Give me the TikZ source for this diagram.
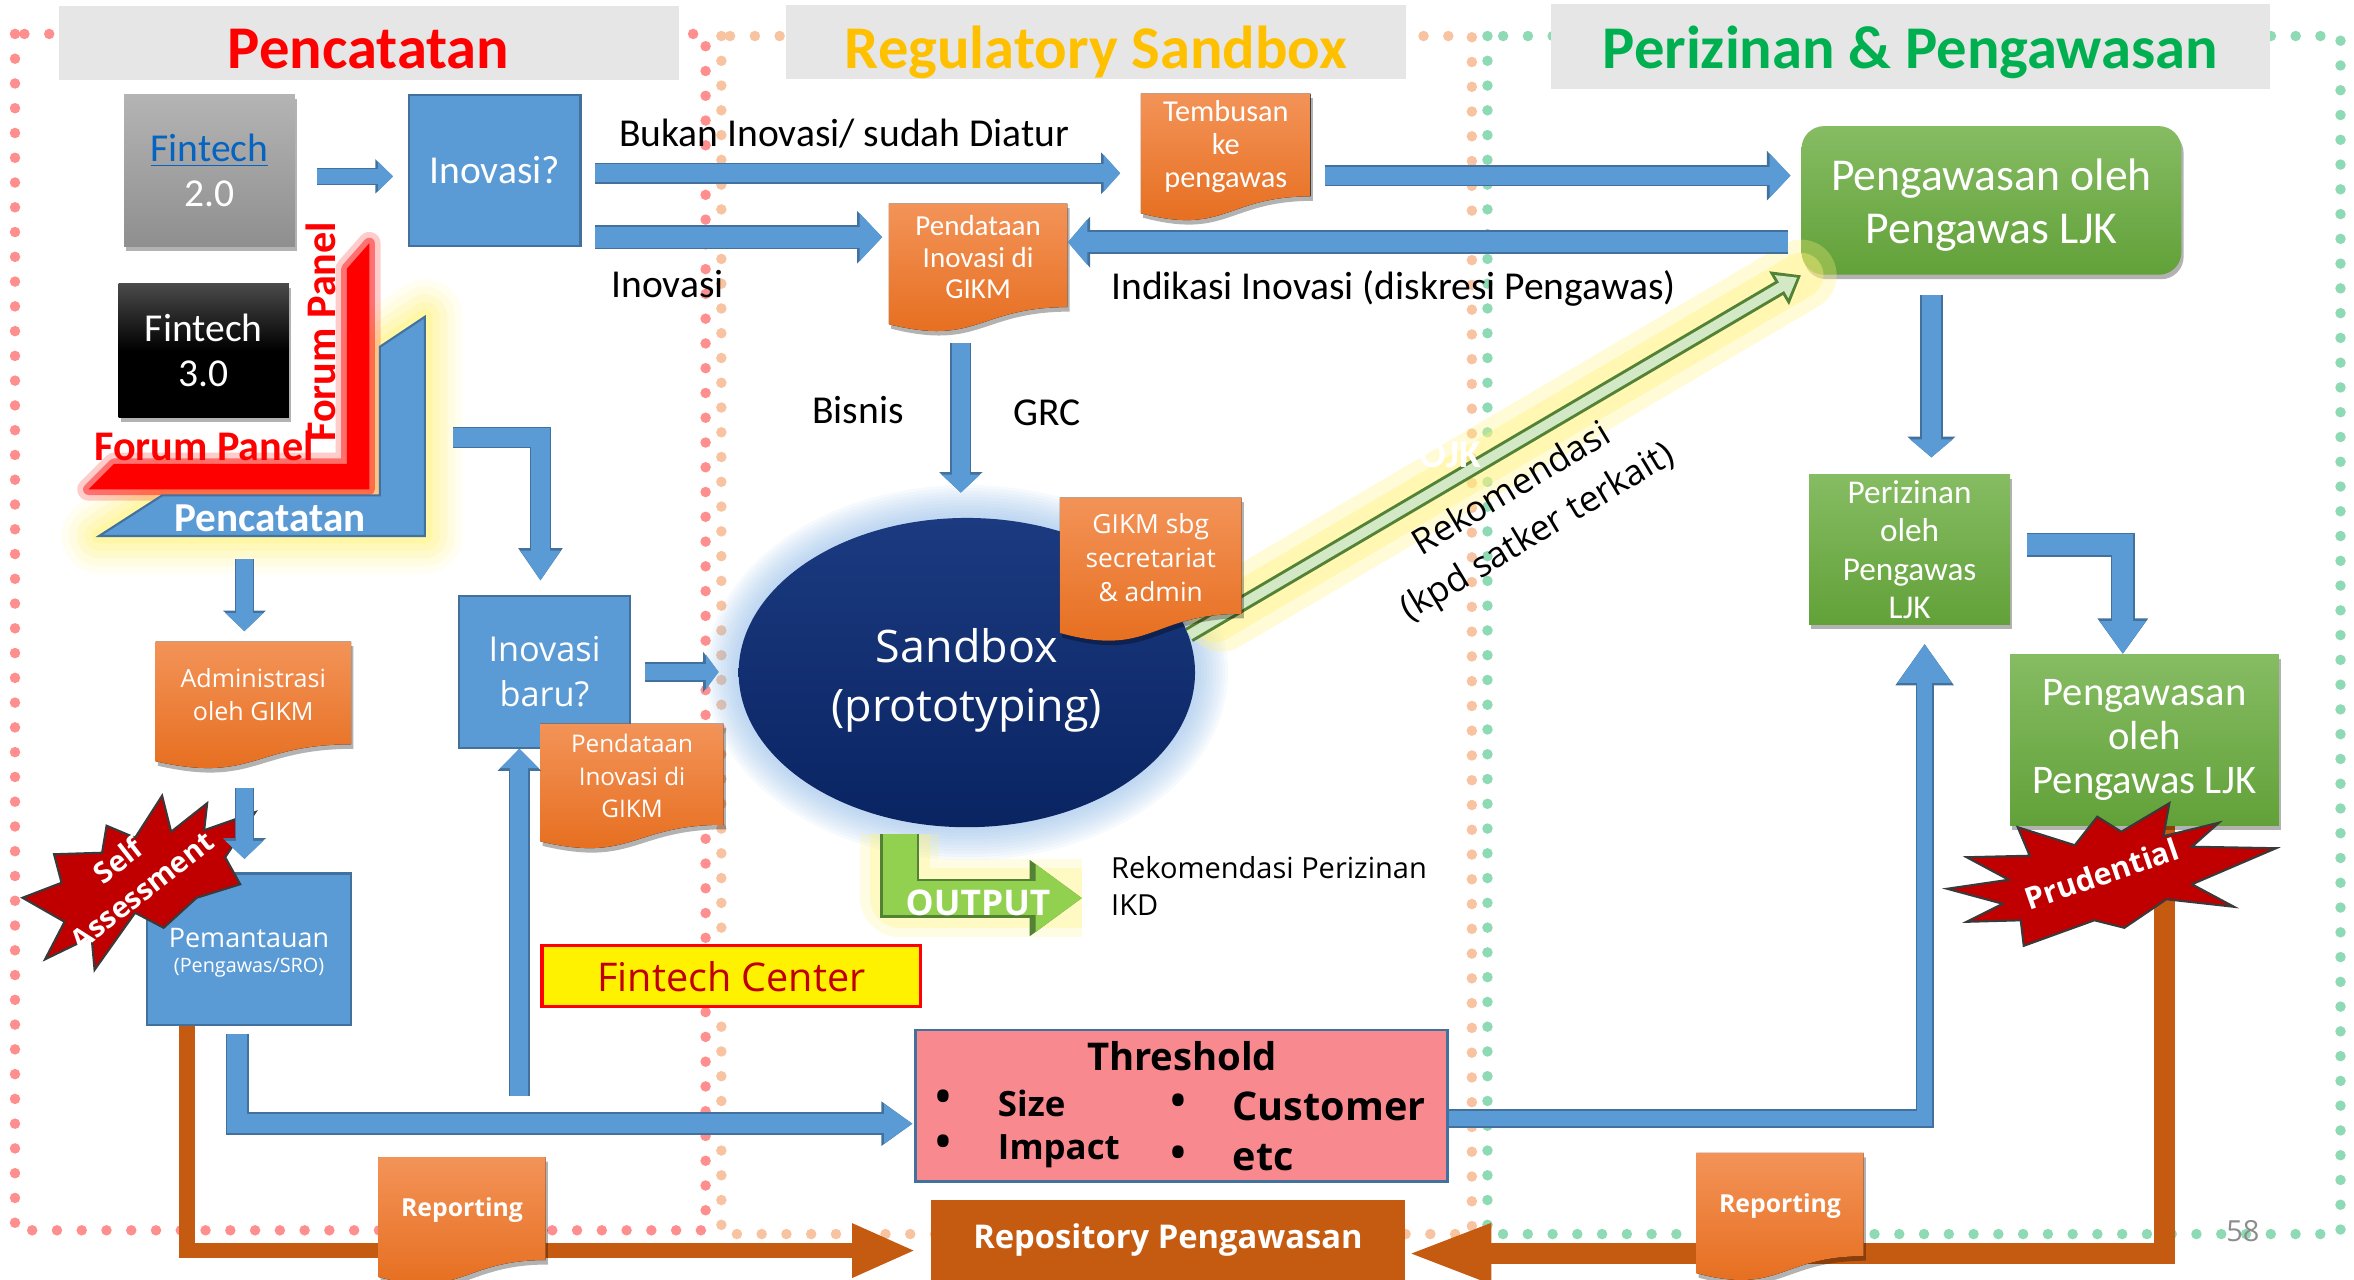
\documentclass[tikz,border=0pt]{standalone}
\usepackage{fontspec}
\setmainfont{Carlito}
\newfontfamily\segoe{Open Sans}
\usetikzlibrary{arrows.meta, shapes.geometric, shadows}

\definecolor{bfill}{HTML}{5B9BD5}
\definecolor{bline}{HTML}{41719C}
\definecolor{orgtop}{HTML}{F39358}
\definecolor{orgbot}{HTML}{E56B1A}
\definecolor{repcol}{HTML}{C55A11}
\definecolor{grntop}{HTML}{86BC63}
\definecolor{grnbot}{HTML}{62A139}
\definecolor{navy}{HTML}{0A2462}
\definecolor{navytop}{HTML}{1B3A80}
\definecolor{glowblue}{HTML}{8DB8E6}
\definecolor{glowyel}{HTML}{FFF27A}
\definecolor{pinkfill}{HTML}{F8898F}
\definecolor{ttlgray}{HTML}{E6E6E6}
\definecolor{ttlgold}{HTML}{FFC000}
\definecolor{ttlgreen}{HTML}{00B050}
\definecolor{dotred}{HTML}{FF8F8F}
\definecolor{dotpeach}{HTML}{F7C3A0}
\definecolor{dotgreen}{HTML}{8EDAB4}
\definecolor{burst}{HTML}{C00000}
\definecolor{burstline}{HTML}{3A3A3A}
\definecolor{outgreen}{HTML}{92D050}
\definecolor{dkgreen}{HTML}{548235}
\definecolor{diaglight}{HTML}{D3E8C5}
\definecolor{linkblue}{HTML}{0563C1}
\definecolor{fgtop}{HTML}{B4B4B4}
\definecolor{fgbot}{HTML}{8F8F8F}
\definecolor{fktop}{HTML}{4A4A4A}
\definecolor{ftred}{HTML}{C00000}
\definecolor{pggray}{HTML}{8C8C8C}

\newcommand\fsz[2]{\fontsize{#1}{#2}\selectfont}

% orange document shape: name, x, y, width, height, font, text
\newcommand\docbox[7]{%
  \fill[docfill] (#2,#3) -- (#2+#4,#3) -- (#2+#4,#3+0.802*#5)
    .. controls (#2+0.5*#4,#3+0.802*#5) and (#2+0.5*#4,#3+1.107*#5) .. (#2,#3+0.934*#5) -- cycle;
  \node[boxwh={#4}{#5}] (#1) at (#2+0.5*#4,#3+0.5*#5) {};
  \node[doctxt, font=#6] (#1t) at (#2+0.5*#4,#3+0.415*#5) {#7};
}

\tikzset{
  boxwh/.style 2 args={minimum width=#1*0.02cm, minimum height=#2*0.02cm, inner sep=0pt},
  shd/.style={drop shadow={shadow xshift=0.03cm, shadow yshift=-0.06cm, opacity=0.3, fill=black}},
  bluebox/.style={fill=bfill, draw=bline, line width=0.8pt, text=white, align=center},
  greenbox/.style={top color=grntop, bottom color=grnbot, text=white, align=center, shd},
  docfill/.style={top color=orgtop, bottom color=orgbot, shd},
  doctxt/.style={text=white, align=center, inner sep=0pt},
  ttlbox/.style={fill=ttlgray},
  ttl/.style={font=\bfseries\fsz{23}{26}, inner sep=0pt},
  lbl/.style={font=\fsz{15}{17}, inner sep=0pt},
  blk/.style n args={3}{draw=bfill, line width=#1, -{Triangle[length=#3, width=#2]}, % block arrows
    preaction={draw=bline, line width=#1+1.2pt, -{Triangle[length=#3+1pt, width=#2+1.8pt]}}},
  orng/.style n args={3}{draw=repcol, line width=#1, -{Triangle[length=#3, width=#2]}},
  dotline/.style={line width=0.14cm, line cap=round, dash pattern=on 0pt off 0.33cm},
  burststar/.style={fill=burst, draw=burstline, line width=0.8pt},
  bursttxt/.style={text=white, font=\segoe\bfseries\fsz{11}{14.6}, align=center, inner sep=0pt},
  outarr/.style={draw=outgreen, line width=0.46cm, -{Triangle[length=0.62cm, width=0.86cm]},
    preaction={draw=glowyel, line width=1.05cm, opacity=0.2, line join=round, line cap=butt, -},
    preaction={draw=glowyel, line width=0.8cm, opacity=0.3, line join=round, line cap=butt, -},
    preaction={draw=dkgreen, line width=0.52cm, -{Triangle[length=0.7cm, width=0.97cm]}}},
  diagarr/.style={draw=diaglight, line width=0.13cm, shorten >=0.06cm, -{Triangle[length=0.24cm, width=0.34cm]},
    preaction={draw=glowyel, line width=0.95cm, opacity=0.3, shorten >=0pt, shorten <=0.5cm, line cap=round, -},
    preaction={draw=glowyel, line width=0.6cm, opacity=0.4, shorten >=0pt, shorten <=0.4cm, line cap=round, -},
    preaction={draw=dkgreen, line width=0.21cm, shorten >=0pt, -{Triangle[length=0.34cm, width=0.5cm]}}},
}

\begin{document}
\begin{tikzpicture}[x=0.02cm, y=-0.02cm]
\useasboundingbox (0,0) rectangle (1568,852);
\clip (0,0) rectangle (1568,852);

% column frames
\draw[dotline, dotred] (10,22.6) rectangle (470,819.5);
\draw[dotline, dotpeach] (480.5,24) rectangle (980.4,822);
\draw[dotline, dotgreen] (990.8,24) rectangle (1559,822);

\node[ttlbox, boxwh={413}{49.5}] (head1) at (245.5,28.8) {};
\node[ttl, text=red] (head1t) at (245.5,33) {Pencatatan};
\node[ttlbox, boxwh={413}{49.2}] (head2) at (730,28.2) {};
\node[ttl, text=ttlgold] (head2t) at (730,35) {Regulatory Sandbox};
\node[ttlbox, boxwh={479}{56.5}] (head3) at (1272.5,30.7) {};
\node[ttl, text=ttlgreen] (head3t) at (1272.5,35) {Perizinan \& Pengawasan};

% reporting lines
\node[fill=repcol, boxwh={316}{54}, text=white, font=\segoe\bfseries\fsz{12.4}{14}] (repo) at (778,826) {Repository Pengawasan};
\node[boxwh={135.9}{101}] (pemref) at (165.9,632.3) {};
\node[boxwh={179}{114}] (peng2ref) at (1428.5,493) {};
\draw[orng={0.21cm}{0.66cm}{0.85cm}, shorten >=0.19cm] (pemref.south -| 124.5,0) |- (repo.west |- 0,833);
\draw[orng={0.28cm}{0.72cm}{1.14cm}] (peng2ref.south -| 1442,0) |- (repo.east |- 0,835);
\docbox{rep1}{252}{770.8}{111.5}{85.4}{\segoe\bfseries\fsz{9.4}{11}}{Reporting}
\docbox{rep2}{1129.9}{768}{111.5}{85.7}{\segoe\bfseries\fsz{9.4}{11}}{Reporting}

% Pencatatan column
\node[boxwh={113.8}{101}, top color=fgtop, bottom color=fgbot, shd, align=center, text=white, font=\fsz{15}{16.8}] (fin2) at (139.5,113.5) {\textcolor{linkblue}{\underline{Fintech}}\\2.0};
\node[boxwh={113.3}{89}, top color=fktop, bottom color=black, middle color=black, shd, align=center, text=white, font=\fsz{15}{16.8}] (fin3) at (135.7,233.5) {Fintech\\3.0};

\foreach \w/\o in {1.0/0.1, 0.8/0.14, 0.6/0.18, 0.4/0.24, 0.2/0.3}
  \draw[glowyel, line width=\w cm, opacity=\o, line join=round] (66,357) -- (108,330) -- (253,330) -- (253,231) -- (283,211) -- (283,357) -- cycle;
\foreach \w/\o in {0.3/0.2, 0.15/0.45}
  \draw[red, line width=\w cm, opacity=\o, line join=round] (59,326) -- (76,309) -- (231,309) -- (231,179) -- (246,162) -- (246,326) -- cycle;
\fill[red] (59,326) -- (76,309) -- (231,309) -- (231,179) -- (246,162) -- (246,326) -- cycle;
\draw[fill=bfill, draw=bline, line width=0.8pt] (66,357) -- (108,330) -- (253,330) -- (253,231) -- (283,211) -- (283,357) -- cycle;
\node[text=white, font=\bfseries\fsz{15.6}{18}, inner sep=0pt] (pcat) at (180,345) {Pencatatan};
\node[text=red, font=\bfseries\fsz{16}{18}, inner sep=0pt] (forumh) at (136,297) {Forum Panel};
\node[text=red, font=\bfseries\fsz{16}{18}, inner sep=0pt, rotate=90] (forumv) at (214,221) {Forum Panel};

\node[bluebox, boxwh={114.2}{101}, font=\fsz{15}{17}] (inov) at (329.6,113.5) {Inovasi?};
\docbox{admin}{103.6}{427.3}{130.2}{85.4}{\segoe\fsz{9.5}{12.3}}{Administrasi\\oleh GIKM}
\node[bluebox, boxwh={135.9}{101}] (pem) at (165.9,632.3) {};
\node[text=white, font=\segoe\fsz{10.2}{12}, inner sep=0pt] (pemt) at (165.9,625) {Pemantauan};
\node[text=white, font=\segoe\fsz{7.5}{9}, inner sep=0pt] (pemsub) at (165.9,644.7) {(Pengawas/SRO)};
\fill[burststar] (108,530) -- (114,554) -- (138,535) -- (136,553) -- (170,541) -- (150,571) -- (160,589) -- (131,598) -- (109,618) -- (90,608) -- (63,646) -- (61,624) -- (30,639) -- (43,614) -- (15,598) -- (41,588) -- (36,569) -- (68,568) -- (71,550) -- (90,558) -- cycle;
\node[bursttxt, rotate=38] (selfas) at (86.5,583) {Self\\Assessment};

\node[bluebox, boxwh={113.8}{101}, font=\segoe\fsz{13}{17}] (inovbaru) at (362.7,447.5) {Inovasi\\baru?};
\docbox{pend2}{360}{482}{122}{84}{\segoe\fsz{9.2}{12.2}}{Pendataan\\Inovasi di\\GIKM}
\node[fill=yellow, draw=red, line width=1.2pt, boxwh={252.4}{40.5}, text=ftred, font=\segoe\fsz{15}{17}] (fcenter) at (487.2,650.3) {Fintech Center};

% Regulatory Sandbox column
\docbox{pend1}{592}{135.6}{119}{86}{\fsz{11}{12}}{Pendataan\\Inovasi di\\GIKM}
\docbox{temb}{760}{62.3}{113}{85.4}{\fsz{11.5}{12.6}}{Tembusan\\ke\\pengawas}
\foreach \r in {2,4,...,22}
  \fill[glowblue, opacity=0.07] (644,448) ellipse [x radius=152+\r, y radius=103+\r];
\node[ellipse, boxwh={304}{206}, top color=navytop, bottom color=navy] (sand) at (644,448) {};
\node[text=white, font=\segoe\fsz{17}{22.5}, align=center, inner sep=0pt] (sandt) at (644,453) {Sandbox\\(prototyping)};

\node[fill=pinkfill, draw=bline, line width=1pt, boxwh={354.3}{101}] (thr) at (786.9,736.5) {};
\node[font=\segoe\bfseries\fsz{14.5}{16}, inner sep=0pt] (thrt) at (787.4,703.5) {Threshold};
\foreach \x/\y [count=\i] in {628.7/734.6, 628.7/764.5, 785/737.4, 785/771.5}
  \node[font=\segoe\fsz{20}{22}, inner sep=0pt] (bul\i) at (\x,\y) {\textbullet};
\node[font=\segoe\bfseries\fsz{13.2}{15}, inner sep=0pt, anchor=west] (tsize) at (664.4,735) {Size};
\node[font=\segoe\bfseries\fsz{13.2}{15}, inner sep=0pt, anchor=west] (timpact) at (664.4,767) {Impact};
\node[font=\segoe\bfseries\fsz{15}{17}, inner sep=0pt, anchor=west] (tcust) at (820.7,737) {Customer};
\node[font=\segoe\bfseries\fsz{15}{17}, inner sep=0pt, anchor=west] (tetc) at (820.7,771) {etc};

% Perizinan & Pengawasan column
\node[greenbox, rounded corners=0.3cm, boxwh={253}{99}] (peng1) at (1326.5,133.5) {};
\node[text=white, font=\fsz{17.3}{20}, align=center, inner sep=0pt] (peng1t) at (1326.5,136.5) {Pengawasan oleh\\Pengawas LJK};
\node[greenbox, boxwh={134}{100}, font=\fsz{12.6}{14.6}] (periz) at (1272,366) {Perizinan\\oleh\\Pengawas\\LJK};
\node[greenbox, boxwh={179}{114}, font=\fsz{15.4}{16.8}] (peng2) at (1428.5,493) {Pengawasan\\oleh\\Pengawas LJK};
\fill[burststar] (1445,535) -- (1441,557) -- (1478,548) -- (1460,564) -- (1516,565) -- (1460,589) -- (1488,604) -- (1443,599) -- (1415,618) -- (1395,613) -- (1348,630) -- (1346,613) -- (1310,614) -- (1334,602) -- (1297,592) -- (1338,586) -- (1310,571) -- (1352,570) -- (1344,551) -- (1382,563) -- (1397,544) -- (1413,554) -- cycle;
\node[bursttxt, font=\segoe\bfseries\fsz{11.5}{13}, rotate=19] (prud) at (1400,582) {Prudential};

% recommendation to the supervisor
\coordinate (dstart) at (792,423);
\draw[diagarr] (dstart) -- (peng1.south west);
\node[text=white, font=\bfseries\fsz{15}{17}, inner sep=0pt] (ojk) at (966,303) {OJK};
\node[font=\segoe\fsz{13.5}{19}, align=center, inner sep=0pt, rotate=31] (rekdiag) at (1016,341) {Rekomendasi\\(kpd satker terkait)};
\docbox{gikm}{706}{331.4}{121}{96.6}{\segoe\fsz{10}{13}}{GIKM sbg\\secretariat\\\& admin}

\node[font=\segoe\fsz{11}{14}, align=left, inner sep=0pt, anchor=west] (rekout) at (739.8,590) {Rekomendasi Perizinan\\IKD};
\draw[outarr, shorten <=0.08cm, shorten >=0.38cm] (sand.south -| 599.4,0) |- (rekout.west |- 0,598.2);
\node[text=white, font=\segoe\bfseries\fsz{13.4}{15}, inner sep=0pt] (outt) at (651.5,601.5) {OUTPUT};

% flow arrows
\draw[blk={0.19cm}{0.38cm}{0.2cm}, shorten <=0.29cm, shorten >=0.2cm] (fin2.east |- 0,117.5) -- (inov.west |- 0,117.5);
\draw[blk={0.24cm}{0.48cm}{0.22cm}, shorten <=0.18cm, shorten >=0.27cm] (inov.east |- 0,115.4) -- node[lbl, above=0.22cm, pos=0.47] (lblbukan) {Bukan Inovasi/ sudah Diatur} (temb.west |- 0,115.4);
\draw[blk={0.28cm}{0.62cm}{0.3cm}, shorten <=0.18cm, shorten >=0.08cm] (inov.east |- 0,158) -- node[lbl, below=0.3cm, pos=0.28] (lblinov) {Inovasi} (pend1.west |- 0,158);
\draw[blk={0.24cm}{0.58cm}{0.28cm}, shorten <=0.18cm, shorten >=0.14cm] (temb.east |- 0,117) -- (peng1.west |- 0,117);
\draw[blk={0.27cm}{0.6cm}{0.26cm}, shorten <=0.17cm] (peng1.west |- 0,161.3) -- node[lbl, below=0.24cm, pos=0.556] (lblind) {Indikasi Inovasi (diskresi Pengawas)} (pend1.east |- 0,161.3);
\draw[blk={0.24cm}{0.5cm}{0.24cm}, shorten <=0.13cm, shorten >=0.33cm] (pend1.south -| 640,0) -- node[lbl, left=0.64cm, pos=0.416] (lblbis) {Bisnis} node[lbl, right=0.58cm, pos=0.43] (lblgrc) {GRC} (sand.north -| 640,0);
\draw[blk={0.26cm}{0.56cm}{0.24cm}, shorten <=0.26cm, shorten >=0.22cm] (peng1.south -| 1286.5,0) -- (periz.north -| 1286.5,0);
\draw[blk={0.28cm}{0.58cm}{0.44cm}, shorten <=0.22cm] (periz.east |- 0,363) -| (peng2.north -| 1414,0);

\coordinate (pcatfoot) at (162.8,357);
\draw[blk={0.22cm}{0.49cm}{0.24cm}, shorten <=0.31cm, shorten >=0.13cm] (pcatfoot) -- (admin.north -| 162.8,0);
\draw[blk={0.22cm}{0.49cm}{0.24cm}, shorten <=0.23cm, shorten >=0.18cm] (admin.south -| 162.8,0) -- (pem.north -| 162.8,0);
\coordinate (hook) at (301.7,291.4);
\draw[blk={0.25cm}{0.5cm}{0.4cm}, shorten >=0.19cm] (hook) -| (inovbaru.north -| 360,0);
\draw[blk={0.22cm}{0.46cm}{0.17cm}, shorten <=0.18cm, shorten >=0.26cm] (inovbaru.east |- 0,447.6) -- (sand.west |- 0,447.6);
\coordinate (upfoot) at (346,730);
\draw[blk={0.24cm}{0.5cm}{0.26cm}] (upfoot) -- (inovbaru.south -| 346,0);
\draw[blk={0.26cm}{0.5cm}{0.38cm}, shorten <=0.1cm, shorten >=0.02cm] (pem.south -| 158,0) |- (thr.west |- 0,748.5);
\draw[blk={0.2cm}{0.68cm}{0.52cm}, shorten >=0.25cm] (thr.east |- 0,745) -| (periz.south -| 1282,0);

\node[text=pggray, font=\segoe\fsz{11}{13}, inner sep=0pt] (pgno) at (1494,820) {58};
\end{tikzpicture}
\end{document}
